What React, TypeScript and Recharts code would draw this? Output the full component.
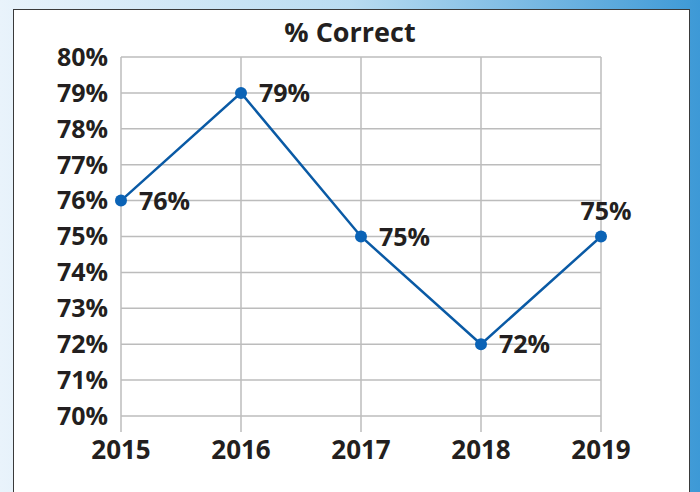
import { CartesianGrid, LabelList, Line, LineChart, XAxis, YAxis } from "recharts";

const years = ["2015", "2016", "2017", "2018", "2019"];
const correct = [76, 79, 75, 72, 75];
const yTicks = [70, 71, 72, 73, 74, 75, 76, 77, 78, 79, 80];

const data = years.map((year, i) => ({ year, correct: correct[i] }));

const FONT = "'Open Sans', sans-serif";
const INK = "#231f20";

function PointLabel(props: any) {
  const { x, y, value, index } = props;
  const last = index === years.length - 1;
  return (
    <text
      x={last ? x + 5 : x + 18}
      y={last ? y - 26 : y}
      dy="0.36em"
      textAnchor={last ? "middle" : "start"}
      fontFamily={FONT}
      fontWeight={700}
      fontSize={25}
      fill={INK}
    >
      {`${value}%`}
    </text>
  );
}

export default function App() {
  return (
    <div
      style={{
        position: "absolute",
        left: 0,
        top: 0,
        width: 700,
        height: 492,
        overflow: "hidden",
        background: "linear-gradient(90deg, #e9f3fb 0%, #b9dcf1 50%, #3d99d6 100%)",
      }}
    >
      <div
        style={{
          position: "absolute",
          left: 13,
          top: 9,
          width: 675,
          height: 500,
          background: "#ffffff",
          border: "1px solid #3a3a3a",
        }}
      />
      <div
        style={{
          position: "absolute",
          left: 350,
          top: 13,
          transform: "translateX(-50%)",
          fontFamily: FONT,
          fontWeight: 700,
          fontSize: 27,
          color: INK,
          whiteSpace: "nowrap",
        }}
      >
        % Correct
      </div>
      <div style={{ position: "absolute", left: 0, top: 0 }}>
        <LineChart
          width={700}
          height={492}
          data={data}
          margin={{ top: 57, right: 99, left: 21, bottom: 0 }}
        >
          <CartesianGrid stroke="#bcbcbc" strokeWidth={1.5} />
          <XAxis
            dataKey="year"
            axisLine={false}
            tickLine={{ stroke: "#bcbcbc", strokeWidth: 1.5 }}
            tickSize={16}
            tickMargin={9}
            height={76}
            interval={0}
            tick={{ fontFamily: FONT, fontWeight: 700, fontSize: 26, fill: INK }}
          />
          <YAxis
            domain={[70, 80]}
            ticks={yTicks}
            width={100}
            axisLine={false}
            tickLine={false}
            tickSize={0}
            tickMargin={13}
            interval={0}
            tickFormatter={(v: number) => `${v}%`}
            tick={{ fontFamily: FONT, fontWeight: 700, fontSize: 25, fill: INK }}
          />
          <Line
            type="linear"
            dataKey="correct"
            stroke="#0a5aa5"
            strokeWidth={2.5}
            dot={{ r: 6, fill: "#0b63b6", stroke: "#0b63b6", strokeWidth: 0 }}
            isAnimationActive={false}
          >
            <LabelList dataKey="correct" content={<PointLabel />} />
          </Line>
        </LineChart>
      </div>
    </div>
  );
}
